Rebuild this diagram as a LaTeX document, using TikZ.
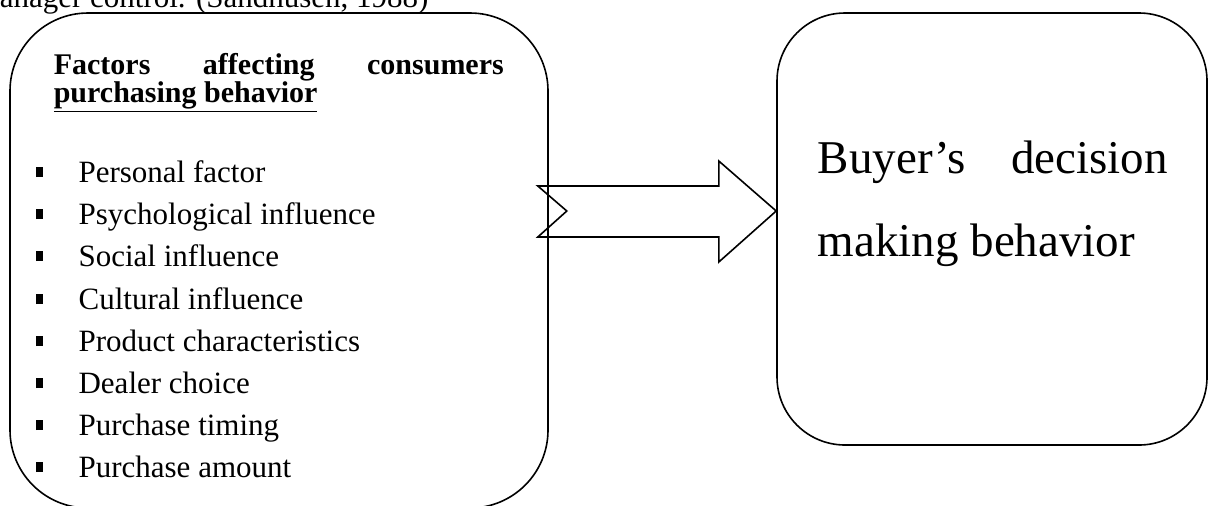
\documentclass[tikz,border=0pt]{standalone}
\usepackage{fontspec}
\setmainfont{Liberation Serif}

\newcommand{\sqbullet}{\rule[2.5pt]{3.6pt}{5pt}\hspace{17.8pt}}

\begin{document}
\begin{tikzpicture}[x=0.5pt, y=-0.5pt, line width=0.8pt,
    bigbox/.style={draw, rounded corners=39pt, inner sep=0pt},
    heading/.style={anchor=base west, inner sep=0pt, font=\bfseries\fontsize{15}{18}\selectfont},
    factor/.style={anchor=base west, inner sep=0pt, font=\fontsize{15.5}{18}\selectfont},
    outcome/.style={anchor=base west, inner sep=0pt, font=\fontsize{23.5}{28}\selectfont},
    blockarrow/.style={draw, line join=miter}]
    \useasboundingbox (0,0) rectangle (1208,505);
    \clip (0,0) rectangle (1208,505);

    % Caption line, cut off by the page top
    \node[factor] (source) at (-1,7) {anager control. (Sandhusen, 1988)};

    % Boxes
    \node[bigbox, minimum width=269pt, minimum height=247.5pt] (factors) at (279,260.5) {};
    \node[bigbox, rounded corners=34pt, minimum width=215pt, minimum height=216pt] (buyer) at (992,229) {};

    % Heading of left box
    \node[heading] (title1) at (53,74) {\makebox[225pt][s]{Factors affecting consumers}};
    \node[heading] (title2) at (53,102) {\underline{purchasing behavior}};

    % Factor list
    \node[factor] (personal) at (35,182) {\sqbullet Personal factor};
    \node[factor] (psychological) at (35,224) {\sqbullet Psychological influence};
    \node[factor] (social) at (35,266) {\sqbullet Social influence};
    \node[factor] (cultural) at (35,309) {\sqbullet Cultural influence};
    \node[factor] (product) at (35,351) {\sqbullet Product characteristics};
    \node[factor] (dealer) at (35,393) {\sqbullet Dealer choice};
    \node[factor] (timing) at (35,435) {\sqbullet Purchase timing};
    \node[factor] (amount) at (35,477) {\sqbullet Purchase amount};

    % Text of right box
    \node[outcome] (decision1) at (817,173) {\makebox[175pt][s]{Buyer’s decision}};
    \node[outcome] (decision2) at (817,256) {making behavior};

    % Block arrow between the boxes
    \coordinate (mid) at (0,211);
    \coordinate (tail) at (factors.east |- mid);
    \coordinate (tip) at (buyer.west |- mid);
    \draw[blockarrow] ([shift={(-11,-25)}]tail) -- ([shift={(170,-25)}]tail)
        -- ([shift={(170,-50)}]tail) -- (tip) -- ([shift={(170,51)}]tail)
        -- ([shift={(170,26)}]tail) -- ([shift={(-11,26)}]tail)
        -- ([shift={(18,0)}]tail) -- cycle;
\end{tikzpicture}
\end{document}
